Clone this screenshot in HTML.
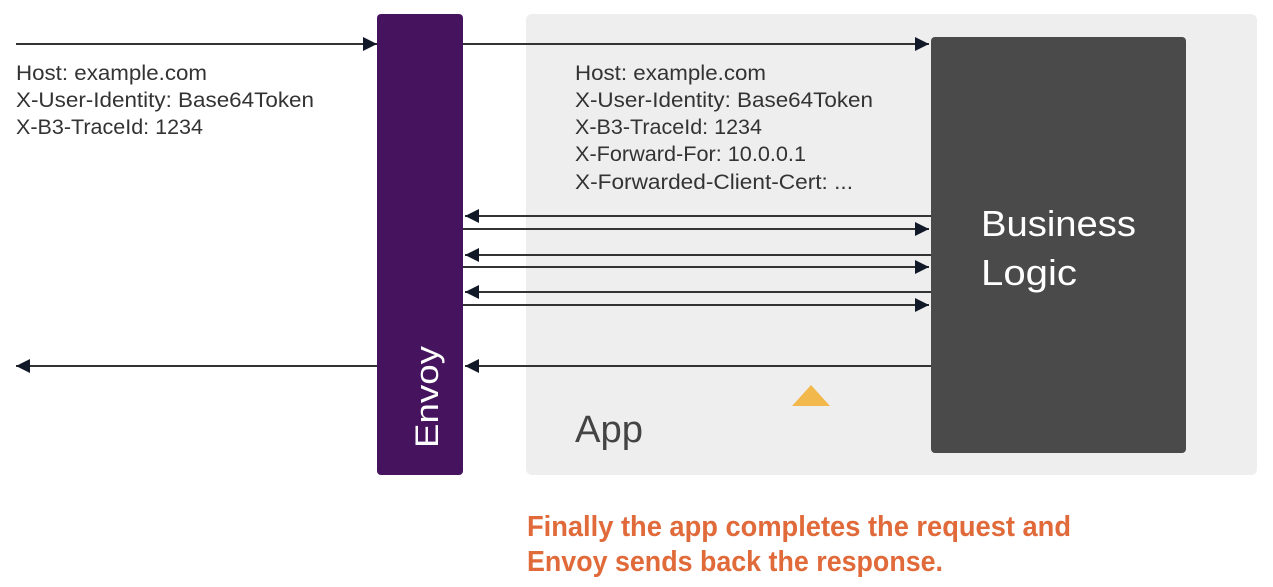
<!DOCTYPE html>
<html><head><meta charset="utf-8"><style>
html,body{margin:0;padding:0;background:#fff;width:1273px;height:587px;overflow:hidden}
text{font-family:"Liberation Sans",sans-serif}
</style></head><body>
<svg width="1273" height="587" viewBox="0 0 1273 587" xmlns="http://www.w3.org/2000/svg">
<defs>
<marker id="a" viewBox="0 0 10 10" refX="10" refY="5" markerWidth="16" markerHeight="14" markerUnits="userSpaceOnUse" orient="auto"><path d="M0,0L10,5L0,10z" fill="#111827"/></marker>
</defs>
<rect x="526" y="14" width="731" height="461" rx="6" fill="#eeeeee"/>
<rect x="377" y="14" width="86" height="461" rx="4" fill="#46145f"/>
<rect x="931" y="37" width="255" height="416" rx="4" fill="#4a4a4a"/>
<g stroke="#333" stroke-width="2" fill="none">
<line x1="16" y1="44" x2="377" y2="44" marker-end="url(#a)"/>
<line x1="463" y1="44" x2="929" y2="44" marker-end="url(#a)"/>
<line x1="931" y1="216" x2="465" y2="216" marker-end="url(#a)"/>
<line x1="463" y1="229" x2="929" y2="229" marker-end="url(#a)"/>
<line x1="931" y1="255" x2="465" y2="255" marker-end="url(#a)"/>
<line x1="463" y1="267" x2="929" y2="267" marker-end="url(#a)"/>
<line x1="931" y1="292" x2="465" y2="292" marker-end="url(#a)"/>
<line x1="463" y1="305" x2="929" y2="305" marker-end="url(#a)"/>
<line x1="931" y1="366" x2="465" y2="366" marker-end="url(#a)"/>
<line x1="377" y1="366" x2="16" y2="366" marker-end="url(#a)"/>
</g>
<polygon points="811,385 830,406 792,406" fill="#f2b84b"/>
<g font-size="21" fill="#333">
<text x="16" y="80" textLength="191" lengthAdjust="spacingAndGlyphs">Host: example.com</text>
<text x="16" y="107" textLength="298" lengthAdjust="spacingAndGlyphs">X-User-Identity: Base64Token</text>
<text x="16" y="134" textLength="187" lengthAdjust="spacingAndGlyphs">X-B3-TraceId: 1234</text>
<text x="575" y="80" textLength="191" lengthAdjust="spacingAndGlyphs">Host: example.com</text>
<text x="575" y="107" textLength="298" lengthAdjust="spacingAndGlyphs">X-User-Identity: Base64Token</text>
<text x="575" y="134" textLength="187" lengthAdjust="spacingAndGlyphs">X-B3-TraceId: 1234</text>
<text x="575" y="161" textLength="231" lengthAdjust="spacingAndGlyphs">X-Forward-For: 10.0.0.1</text>
<text x="575" y="189" textLength="278" lengthAdjust="spacingAndGlyphs">X-Forwarded-Client-Cert: ...</text>
</g>
<text x="981" y="236" font-size="36" fill="#fff" textLength="155" lengthAdjust="spacingAndGlyphs">Business</text>
<text x="981" y="285" font-size="36" fill="#fff" textLength="96" lengthAdjust="spacingAndGlyphs">Logic</text>
<text x="575" y="442" font-size="38" fill="#444" textLength="68" lengthAdjust="spacingAndGlyphs">App</text>
<text transform="translate(438,448) rotate(-90)" font-size="32" fill="#fff" textLength="102" lengthAdjust="spacingAndGlyphs">Envoy</text>
<g font-size="29" font-weight="bold" fill="#e06a3a">
<text x="527" y="536" textLength="544" lengthAdjust="spacingAndGlyphs">Finally the app completes the request and</text>
<text x="527" y="571" textLength="416" lengthAdjust="spacingAndGlyphs">Envoy sends back the response.</text>
</g>
</svg>
</body></html>
